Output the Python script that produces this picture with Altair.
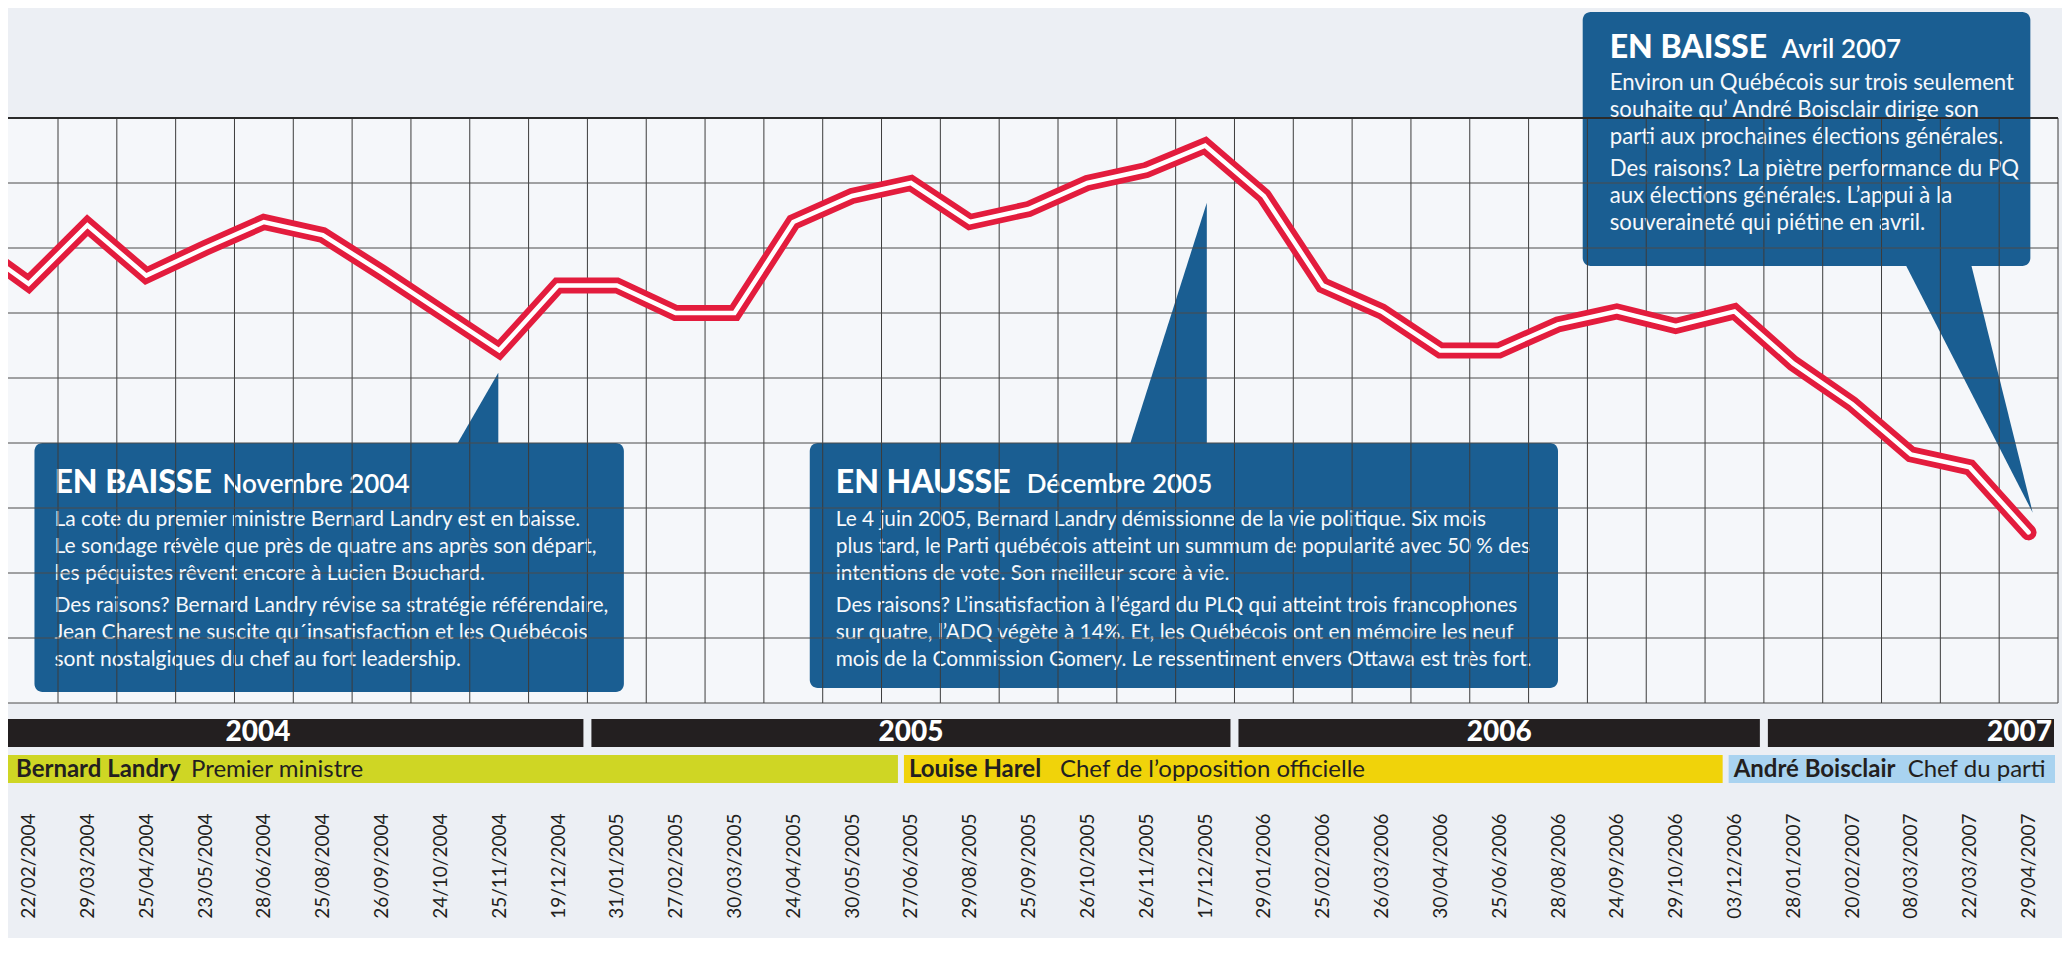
import json
import altair as alt
import pandas as pd

# ---------------- data ----------------
dates = ["22/02/2004", "29/03/2004", "25/04/2004", "23/05/2004", "28/06/2004", "25/08/2004",
         "26/09/2004", "24/10/2004", "25/11/2004", "19/12/2004", "31/01/2005", "27/02/2005",
         "30/03/2005", "24/04/2005", "30/05/2005", "27/06/2005", "29/08/2005", "25/09/2005",
         "26/10/2005", "26/11/2005", "17/12/2005", "29/01/2006", "25/02/2006", "26/03/2006",
         "30/04/2006", "25/06/2006", "28/08/2006", "24/09/2006", "29/10/2006", "03/12/2006",
         "28/01/2007", "20/02/2007", "08/03/2007", "22/03/2007", "29/04/2007"]
pq_support = [41.8, 45.4, 42.3, 44.0, 45.6, 44.8, 42.5, 40.1, 37.7, 41.7, 41.7, 40.0,
              40.0, 45.6, 47.2, 48.0, 45.6, 46.4, 48.0, 48.8, 50.3, 47.2, 41.7, 40.1,
              37.7, 37.7, 39.3, 40.1, 39.2, 40.1, 36.9, 34.4, 31.3, 30.5, 26.5]
prior_value = 44.4  # previous poll, cut by the left edge of the chart

years = ["2004", "2005", "2006", "2007"]
year_start = [-1.7, 9.5, 20.5, 29.5]
year_end = [9.5, 20.5, 29.5, 34.5]

leaders = ["Bernard Landry", "Louise Harel", "André Boisclair"]
roles = ["Premier ministre", "Chef de l’opposition officielle", "Chef du parti"]
leader_start = [-1.7, 14.83, 28.85]
leader_end = [14.83, 28.85, 34.5]
leader_colors = ["#cfd624", "#f0d30a", "#a9d3f0"]
role_dx = [183, 159, 182]

grid_v = [i + 0.5 for i in range(35)]
grid_h = [52, 48, 44, 40, 36, 32, 28, 24, 20, 16]

annotations = [
    dict(x0=0.10, x1=10.12, top=32.0, bottom=16.68,
         pointer=[(32.0, 7.295, 7.985), (36.33, 7.985, 7.985)],
         title="EN BAISSE", subtitle="Novembre 2004", pad=20, sub_dx=188,
         title_dy=50, body_dy=83, body_size=21,
         paras=["La cote du premier ministre Bernard Landry est en baisse.\n"
                "Le sondage révèle que près de quatre ans après son départ,\n"
                "les péquistes rêvent encore à Lucien Bouchard.",
                "\u00a0Des raisons? Bernard Landry révise sa stratégie référendaire,\n"
                "Jean Charest ne suscite qu´insatisfaction et les Québécois\n"
                "sont nostalgiques du chef au fort leadership."]),
    dict(x0=13.28, x1=26.0, top=32.0, bottom=16.92,
         pointer=[(32.0, 18.73, 20.03), (46.79, 20.03, 20.03)],
         title="EN HAUSSE", subtitle="Décembre 2005", pad=26, sub_dx=217,
         title_dy=50, body_dy=83, body_size=20.8,
         paras=["Le 4 juin 2005, Bernard Landry démissionne de la vie politique. Six mois\n"
                "plus tard, le Parti québécois atteint un summum de popularité avec 50 % des\n"
                "intentions de vote. Son meilleur score à vie.",
                "Des raisons? L’insatisfaction à l’égard du PLQ qui atteint trois francophones\n"
                "sur quatre, l’ADQ végète à 14%. Et, les Québécois ont en mémoire les neuf\n"
                "mois de la Commission Gomery. Le ressentiment envers Ottawa est très fort."]),
    dict(x0=26.42, x1=34.03, top=58.52, bottom=42.89,
         pointer=[(42.89, 31.92, 33.03), (27.71, 34.07, 34.07)],
         title="EN BAISSE", subtitle="Avril 2007", pad=27, sub_dx=199,
         title_dy=46, body_dy=78, body_size=22.2,
         paras=["Environ un Québécois sur trois seulement\n"
                "souhaite qu’ André Boisclair dirige son\n"
                "parti aux prochaines élections générales.",
                "Des raisons? La piètre performance du PQ\n"
                "aux élections générales. L’appui à la\n"
                "souveraineté qui piétine en avril."]),
]

# ---------------- styling ----------------
FONT = "Lato"
BLUE = "#1a5e92"
RED = "#e31c3d"
DARK = "#231f20"
LINE_H = 27
PARA_GAP = 5

xs = alt.Scale(domain=[-0.35, 34.5], nice=False, zero=False)
ys = alt.Scale(domain=[16, 52], nice=False, zero=False)
xaxis = alt.Axis(values=list(range(35)),
                 labelExpr=json.dumps(dates) + "[datum.value]",
                 labelAngle=270, labelFont=FONT, labelFontSize=19, labelColor=DARK,
                 labelOverlap=False, labelFlush=False, labelBound=False,
                 labelPadding=0, offset=110, ticks=False, domain=False, grid=False,
                 title=None)


def X(f):
    return alt.X(f, type="quantitative", scale=xs, axis=xaxis)


def Y(f):
    return alt.Y(f, type="quantitative", scale=ys, axis=None)


layers = []

# annotation boxes and pointers
box_df = pd.DataFrame([dict(x0=a["x0"], x1=a["x1"], top=a["top"], bottom=a["bottom"]) for a in annotations])
layers.append(alt.Chart(box_df).mark_rect(color=BLUE, cornerRadius=8).encode(
    x=X("x0"), x2=alt.X2("x1"), y=Y("top"), y2=alt.Y2("bottom")))

ptr_rows = []
for k, a in enumerate(annotations):
    for (yv, xa, xb) in a["pointer"]:
        ptr_rows.append(dict(g=k, py=yv, xa=xa, xb=xb))
layers.append(alt.Chart(pd.DataFrame(ptr_rows)).mark_area(color=BLUE, orient="horizontal").encode(
    y=Y("py"), x=X("xa"), x2=alt.X2("xb"), detail="g:N"))

# annotation texts
for a in annotations:
    anchor = pd.DataFrame([dict(x=a["x0"], y=a["top"], t=a["title"], s=a["subtitle"])])
    layers.append(alt.Chart(anchor).mark_text(
        align="left", baseline="alphabetic", dx=a["pad"], dy=a["title_dy"],
        font=FONT, fontSize=32, fontWeight=900, color="white").encode(
        x=X("x"), y=Y("y"), text="t:N"))
    layers.append(alt.Chart(anchor).mark_text(
        align="left", baseline="alphabetic", dx=a["sub_dx"], dy=a["title_dy"],
        font=FONT, fontSize=26, fontWeight=600, color="white").encode(
        x=X("x"), y=Y("y"), text="s:N"))
    dy = a["body_dy"]
    for p in a["paras"]:
        pdf = pd.DataFrame([dict(x=a["x0"], y=a["top"], t=p)])
        layers.append(alt.Chart(pdf).mark_text(
            align="left", baseline="alphabetic", dx=a["pad"], dy=dy, lineBreak="\n",
            lineHeight=LINE_H, font=FONT, fontSize=a["body_size"], color="#f6f8fb").encode(
            x=X("x"), y=Y("y"), text="t:N"))
        dy += LINE_H * (p.count("\n") + 1) + PARA_GAP

# grid lines (drawn over the boxes, as in the original)
layers.append(alt.Chart(pd.DataFrame({"g": grid_v})).mark_rule(color="#3c3c3c", strokeWidth=1).encode(
    x=X("g"), y=alt.value(0), y2=alt.value(585)))
hdf = pd.DataFrame({"g": grid_h})
layers.append(alt.Chart(hdf).mark_rule(color="#4a4a4a", strokeWidth=1).encode(
    y=Y("g"), x=alt.value(0), x2=alt.value(2050)))
layers.append(alt.Chart(pd.DataFrame({"g": [grid_h[0]]})).mark_rule(color="#2b2b2b", strokeWidth=2).encode(
    y=Y("g"), x=alt.value(0), x2=alt.value(2050)))

# poll line: red with white centre stripe
line_df = pd.DataFrame({"i": [-1] + list(range(len(pq_support))),
                        "v": [prior_value] + pq_support})
layers.append(alt.Chart(line_df).mark_line(
    color=RED, strokeWidth=16, strokeCap="round", strokeJoin="miter", strokeMiterLimit=10,
    clip=True).encode(x=X("i"), y=Y("v")))
layers.append(alt.Chart(line_df).mark_line(
    color="white", strokeWidth=4.5, strokeCap="round", strokeJoin="miter", strokeMiterLimit=10,
    clip=True).encode(x=X("i"), y=Y("v")))

# year band
ydf = pd.DataFrame({"year": years, "s": year_start, "e": year_end})
layers.append(alt.Chart(ydf).mark_rect(color=DARK, xOffset=4, x2Offset=-4).encode(
    x=X("s"), x2=alt.X2("e"), y=alt.value(601), y2=alt.value(629)))
ydf["mid"] = (ydf["s"] + ydf["e"]) / 2
layers.append(alt.Chart(ydf.iloc[:3]).mark_text(
    align="center", baseline="middle", font=FONT, fontSize=28, fontWeight=900,
    color="white").encode(x=X("mid"), y=alt.value(615), text="year:N"))
layers.append(alt.Chart(ydf.iloc[3:]).mark_text(
    align="right", baseline="middle", dx=-6, font=FONT, fontSize=28, fontWeight=900,
    color="white").encode(x=X("e"), y=alt.value(615), text="year:N"))

# leaders band
ldf = pd.DataFrame({"leader": leaders, "role": roles, "s": leader_start, "e": leader_end,
                    "c": leader_colors})
ldf["tx"] = ldf["s"].clip(lower=-0.35)
layers.append(alt.Chart(ldf).mark_rect(xOffset=3, x2Offset=-3).encode(
    x=X("s"), x2=alt.X2("e"), y=alt.value(637), y2=alt.value(665),
    color=alt.Color("c:N", scale=None)))
layers.append(alt.Chart(ldf).mark_text(
    align="left", baseline="middle", dx=8, font=FONT, fontSize=24, fontWeight="bold",
    color=DARK).encode(x=X("tx"), y=alt.value(652), text="leader:N"))
for k in range(len(leaders)):
    layers.append(alt.Chart(ldf.iloc[[k]]).mark_text(
        align="left", baseline="middle", dx=role_dx[k], font=FONT, fontSize=24,
        color=DARK).encode(x=X("tx"), y=alt.value(652), text="role:N"))

chart = alt.layer(*layers).properties(
    width=2050, height=585,
    autosize=alt.AutoSizeParams(type="none"),
    padding={"left": 0, "top": 110, "right": 4, "bottom": 235},
    background="#eceff4",
).configure_view(fill="#f5f7fa", stroke=None)

chart.save("out.html", embed_options={"renderer": "svg", "actions": False})
